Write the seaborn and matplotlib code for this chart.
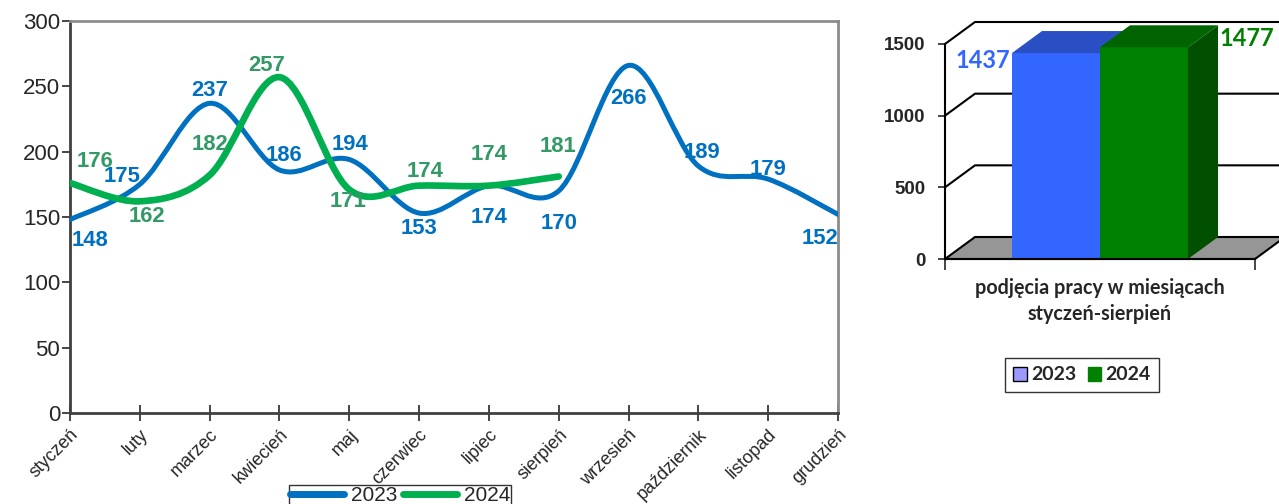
import numpy as np
import pandas as pd
import seaborn as sns
import matplotlib
matplotlib.use('Agg')
import matplotlib.pyplot as plt
from matplotlib.path import Path
from matplotlib.patches import PathPatch, Polygon, Patch
from matplotlib.lines import Line2D

# dane
miesiace = ['styczeń', 'luty', 'marzec', 'kwiecień', 'maj', 'czerwiec', 'lipiec',
            'sierpień', 'wrzesień', 'październik', 'listopad', 'grudzień']
v2023 = [148, 175, 237, 186, 194, 153, 174, 170, 266, 189, 179, 152]
v2024 = [176, 162, 182, 257, 171, 174, 174, 181]
suma_lata = ['2023', '2024']
suma_wart = [1437, 1477]
kategoria = 'podjęcia pracy w miesiącach\nstyczeń-sierpień'

# label offsets in pixels (dx, dy down)
off2023 = [(20, 21), (-18, -8), (0, -13), (4, -14), (1, -15), (0, 15), (0, 32),
           (0, 33), (0, 33), (4, -14), (0, -10), (-18, 24)]
off2024 = [(25, -22), (7, 15), (0, -31), (-13, -12), (-1, 12), (6, -14), (0, -31), (-1, -30)]

C23 = '#0070C0'
C24 = '#00B050'
C24T = '#339966'

sns.set_style('white')
plt.rcParams['font.family'] = ['Liberation Sans', 'DejaVu Sans']

fig = plt.figure(figsize=(12.79, 5.04), dpi=100)


def smooth_path(xs, ys):
    # Excel-like smoothed line (Catmull-Rom as cubic Bezier)
    pts = np.column_stack([xs, ys]).astype(float)
    n = len(pts)
    verts = [pts[0]]
    codes = [Path.MOVETO]
    for i in range(n - 1):
        p0 = pts[max(i - 1, 0)]
        p1 = pts[i]
        p2 = pts[i + 1]
        p3 = pts[min(i + 2, n - 1)]
        verts += [p1 + (p2 - p0) / 6, p2 - (p3 - p1) / 6, p2]
        codes += [Path.CURVE4] * 3
    return Path(verts, codes)


# ---- left: monthly lines ----
ax = fig.add_axes([70 / 1279, 91 / 504, 768 / 1279, 392 / 504])
x23 = np.arange(len(v2023))
x24 = np.arange(len(v2024))
ax.add_patch(PathPatch(smooth_path(x23, v2023), fill=False, edgecolor=C23, lw=3.6,
                       capstyle='round', joinstyle='round', zorder=3))
ax.add_patch(PathPatch(smooth_path(x24, v2024), fill=False, edgecolor=C24, lw=4.8,
                       capstyle='round', joinstyle='round', zorder=4))

for xi, v, (dx, dy) in zip(x23, v2023, off2023):
    ax.annotate(str(v), (xi, v), xytext=(dx * 0.72, -dy * 0.72), textcoords='offset points',
                ha='center', va='center', fontsize=15.8, fontweight='bold', color=C23,
                zorder=5, annotation_clip=False)
for xi, v, (dx, dy) in zip(x24, v2024, off2024):
    ax.annotate(str(v), (xi, v), xytext=(dx * 0.72, -dy * 0.72), textcoords='offset points',
                ha='center', va='center', fontsize=15.8, fontweight='bold', color=C24T,
                zorder=5, annotation_clip=False)

ax.set_xlim(0, 11)
ax.set_ylim(0, 300)
ax.set_yticks(range(0, 301, 50))
ax.tick_params(axis='y', labelsize=16, length=6, width=1.2, direction='out', pad=1, left=True)
ax.set_xticks(x23)
ax.set_xticklabels(miesiace, rotation=45, ha='right', va='top', rotation_mode='anchor',
                   fontsize=13)
ax.tick_params(axis='x', length=11, width=1.2, direction='inout', pad=4, bottom=True)
for s in ['top', 'right']:
    ax.spines[s].set_color('#8c8c8c')
    ax.spines[s].set_linewidth(2)
for s in ['left', 'bottom']:
    ax.spines[s].set_color('#404040')
    ax.spines[s].set_linewidth(2)

h1 = [Line2D([], [], color=C23, lw=5, solid_capstyle='round'),
      Line2D([], [], color=C24, lw=5, solid_capstyle='round')]
fig.legend(h1, ['2023', '2024'], loc='upper center', bbox_to_anchor=(400 / 1279, 1 - 485 / 504),
           ncol=2, fontsize=15, frameon=True, fancybox=False, edgecolor='black',
           handlelength=2.6, handletextpad=0.3, columnspacing=0.3, borderpad=0.05,
           borderaxespad=0)

# ---- right: pseudo-3D bar ----
axr = fig.add_axes([945 / 1279, 245 / 504, 310 / 1279, 215 / 504])
df = pd.DataFrame({'kat': [kategoria] * 2, 'rok': suma_lata, 'wart': suma_wart})
sns.barplot(data=df, x='kat', y='wart', hue='rok', palette=['#3366FF', '#008000'],
            width=0.8, saturation=1, ax=axr, legend=False)
bars = sorted(list(axr.patches), key=lambda p: p.get_x())
xl, xr = -0.7045, 0.7045
dx, dy = 30 / 220, 22 * 1500 / 215
axr.set_xlim(xl, xr)
axr.set_ylim(0, 1500)

# floor and back wall grid
axr.add_patch(Polygon([(xl, 0), (xl + dx, dy), (xr + dx, dy), (xr, 0)], closed=True,
                      facecolor='#969696', edgecolor='black', lw=1.5, zorder=0.5, clip_on=False))
for g in [500, 1000, 1500]:
    axr.plot([xl, xl + dx, xr + dx + 0.3], [g, g + dy, g + dy], color='black', lw=1.5,
             zorder=0.6, clip_on=False)

tops = ['#2A4FC4', '#006400']
sides = ['#2040A0', '#005000']
for i, p in enumerate(bars):
    x0, x1, h = p.get_x(), p.get_x() + p.get_width(), p.get_height()
    z = 3 + i
    p.set_zorder(z)
    p.set_edgecolor('none')
    axr.add_patch(Polygon([(x1, 0), (x1 + dx, dy), (x1 + dx, h + dy), (x1, h)], closed=True,
                          facecolor=sides[i], edgecolor='none', zorder=z, clip_on=False))
    axr.add_patch(Polygon([(x0, h), (x0 + dx, h + dy), (x1 + dx, h + dy), (x1, h)], closed=True,
                          facecolor=tops[i], edgecolor='none', zorder=z, clip_on=False))

b0, b1 = bars
axr.annotate(str(suma_wart[0]), (b0.get_x(), b0.get_height()), xytext=(-2 * 0.72, -7 * 0.72),
             textcoords='offset points', ha='right', va='center', fontsize=17,
             fontweight='bold', color='#3366FF', family='Lato', annotation_clip=False, zorder=10)
axr.annotate(str(suma_wart[1]), (b1.get_x() + b1.get_width() + dx, b1.get_height()),
             xytext=(1 * 0.72, 9 * 0.72), textcoords='offset points', ha='left', va='center',
             fontsize=17, fontweight='bold', color='#008000', family='Lato',
             annotation_clip=False, zorder=10)

sns.despine(ax=axr, top=True, right=True)
for s in ['left', 'bottom']:
    axr.spines[s].set_color('black')
    axr.spines[s].set_linewidth(1.5)
    axr.spines[s].set_zorder(6)
axr.set_yticks([0, 500, 1000, 1500])
axr.set_yticklabels(['0', '500', '1000', '1500'], fontsize=13.5, fontweight='bold')
axr.tick_params(axis='y', length=5, width=1.2, direction='out', pad=9, left=True)
axr.set_xticks([0])
axr.set_xticklabels([kategoria], fontsize=14.2, fontweight='bold', family='Lato',
                    linespacing=1.35)
axr.tick_params(axis='x', length=0, pad=14)
axr.set_xticks([xl, xr], minor=True)
axr.tick_params(axis='x', which='minor', length=8, width=1.2, direction='out', bottom=True)
axr.set_xlabel('')
axr.set_ylabel('')

h2 = [Patch(facecolor='#9999FF', edgecolor='black'), Patch(facecolor='#008000', edgecolor='#008000')]
fig.legend(h2, suma_lata, loc='center', bbox_to_anchor=(1082 / 1279, 1 - 375 / 504), ncol=2,
           prop={'family': 'Lato', 'weight': 'bold', 'size': 14}, frameon=True, fancybox=False,
           edgecolor='black', handlelength=0.7, handleheight=0.7, handletextpad=0.2,
           columnspacing=0.6, borderpad=0.45)

fig.savefig('out.png', dpi=100)
